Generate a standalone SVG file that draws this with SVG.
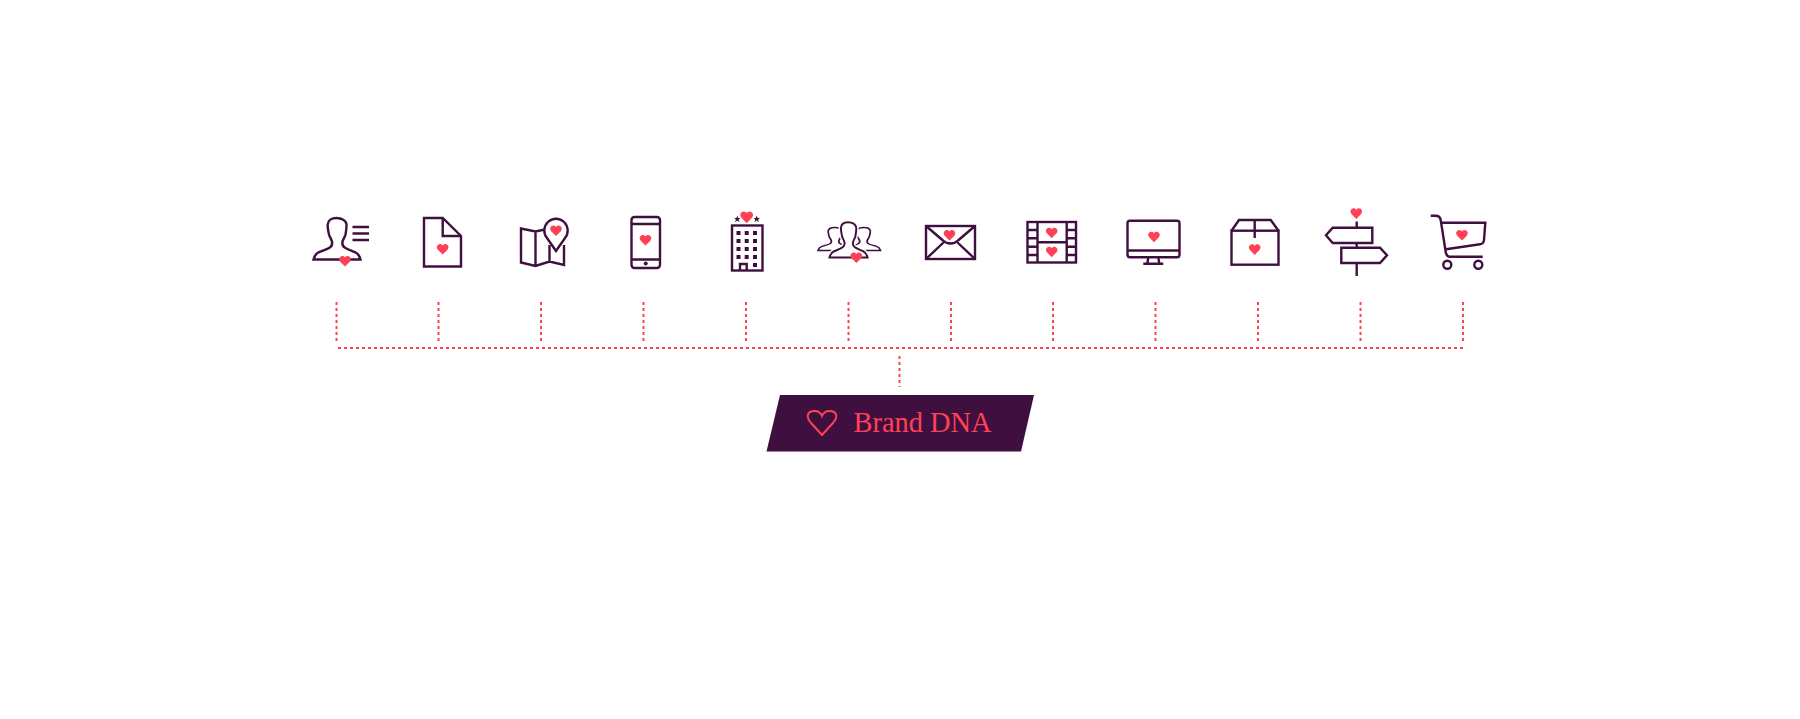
<svg xmlns="http://www.w3.org/2000/svg" width="1800" height="719" viewBox="0 0 1800 719">
<style>
.i{fill:none;stroke:#3f0f40;stroke-width:2.400;stroke-linejoin:miter}
.p{fill:#fff;stroke:#3f0f40;stroke-width:2.400;vector-effect:non-scaling-stroke}
.w{fill:#fff;stroke:#fff;stroke-width:6;vector-effect:non-scaling-stroke}
.f{fill:#3f0f40;stroke:none}
.h{fill:#ff4155;stroke:none}
.d{fill:none;stroke:#ff4155;stroke-width:2;stroke-dasharray:3 3}
.t{font-family:"Liberation Serif",serif;font-size:30px;fill:#ff4155;font-kerning:none}
</style>
<defs>
<path id="heart" d="M0,5.600 L-4.600,.9 C-7.200,-1.800 -5.200,-5 -2.600,-5 C-1.300,-5 -.4,-4.300 0,-3.400 C.4,-4.300 1.300,-5 2.600,-5 C5.200,-5 7.200,-1.800 4.600,.9Z"/>
<path id="person" d="M0 0C.8 -3.500 2.500 -6 5.500 -7.300C8.500 -8.600 13 -10 16 -11.800C18.300 -13.200 19 -15.500 18.500 -18C17.500 -21 16 -23 15.500 -25C14.500 -29 14 -33 14.200 -35C14.500 -39 18 -41.500 23 -41.500C28 -41.500 32.700 -39 33 -35C33.200 -33 32.700 -29 32 -25C31.500 -23 30 -21 29 -18C28.500 -15.500 29.200 -13.200 31.500 -11.800C34.500 -10 38.500 -8.600 41.500 -7.300C44.500 -6 46.200 -3.500 47 0Z"/>
</defs>
<rect width="1800" height="719" fill="#fff"/>
<g id="connectors">
<path class="d" d="M336.500 302V344M438.500 302V344M541 302V344M643.500 302V344M746 302V344M848.500 302V344M951 302V344M1053 302V344M1155.500 302V344M1258 302V344M1360.500 302V344M1463 302V344"/>
<path class="d" d="M338 348H1463"/>
<path class="d" d="M899.500 356V387"/>
</g>
<g id="node-person">
<use href="#person" class="i" transform="translate(313.500 259.500)"/>
<path class="i" d="M352.500 227H369M352.500 233.500H369M352.500 240H369"/>
<use href="#heart" class="h" x="345" y="261"/>
</g>
<g id="node-document">
<path class="i" d="M424 218H442.700L461 236V266.500H424Z"/>
<path class="i" d="M442.700 218V236H461"/>
<use href="#heart" class="h" x="442.700" y="249"/>
</g>
<g id="node-map">
<path class="i" d="M545 229.500L535.500 231.500L521 228.500V262.500L535.500 266L549.500 261.500L564 265V245M549.500 245V261.500M535.500 231.500V266"/>
<path class="i" d="M556 251L547 238A11.700 11.700 0 1 1 565 238Z"/>
<use href="#heart" class="h" x="556" y="230.500"/>
</g>
<g id="node-phone">
<rect class="i" x="631.500" y="217" width="28.500" height="51" rx="3"/>
<path class="i" d="M631.500 224H660M631.500 259.500H660"/>
<circle class="f" cx="645.700" cy="263.500" r="2"/>
<use href="#heart" class="h" x="645.500" y="240"/>
</g>
<g id="node-hotel">
<rect class="i" x="732" y="225.500" width="30.500" height="45"/>
<path class="i" d="M740 270.500V264H746.700V270.500"/>
<path class="f" d="M736.500 231h4v4h-4zM744.700 231h4v4h-4zM753 231h4v4h-4zM736.500 239h4v4h-4zM744.700 239h4v4h-4zM753 239h4v4h-4zM736.500 247h4v4h-4zM744.700 247h4v4h-4zM753 247h4v4h-4zM736.500 255h4v4h-4zM744.700 255h4v4h-4zM753 255h4v4h-4zM753 263h4v4h-4z"/>
<path class="f" d="M737.300 215.500l.9 2.500h2.500l-2 1.600.8 2.600-2.200-1.600-2.200 1.600.8-2.600-2-1.600h2.500zM756.700 215.500l.9 2.500h2.500l-2 1.600.8 2.600-2.200-1.600-2.200 1.600.8-2.600-2-1.600h2.500z"/>
<use href="#heart" class="h" transform="translate(746.700 217) scale(1.100)"/>
</g>
<g id="node-people">
<use href="#person" class="p" transform="translate(818 250.500) scale(.72 .555)"/>
<use href="#person" class="p" transform="translate(880.500 250.500) scale(-.72 .555)"/>
<use href="#person" class="w" transform="translate(829.500 257.500) scale(.81 .85)"/>
<use href="#person" class="p" transform="translate(829.500 257.500) scale(.81 .85)"/>
<use href="#heart" class="h" x="856.300" y="257.500"/>
</g>
<g id="node-envelope">
<rect class="i" x="926" y="226" width="49" height="33"/>
<path class="i" d="M926 226L943 240.500C947 244.500 954 244.500 958 240.500L975 226M926 259L943.500 242.500M975 259L957.500 242.500"/>
<use href="#heart" class="h" x="949.500" y="235"/>
</g>
<g id="node-film">
<rect class="i" x="1027.500" y="222" width="48.500" height="40.500"/>
<path class="i" d="M1037.500 222V262.500M1066.700 222V262.500M1037.500 242.300H1066.700M1027.500 230H1037.500M1027.500 238.300H1037.500M1027.500 246.700H1037.500M1027.500 255H1037.500M1066.700 230H1076M1066.700 238.300H1076M1066.700 246.700H1076M1066.700 255H1076"/>
<use href="#heart" class="h" x="1051.700" y="232.700"/>
<use href="#heart" class="h" x="1051.700" y="251.700"/>
</g>
<g id="node-monitor">
<rect class="i" x="1127.500" y="220.700" width="52" height="36.500" rx="2.500"/>
<path class="i" d="M1127.500 250.500H1179.500M1148.300 257.300L1147.300 263.700M1158.300 257.300L1159.300 263.700M1143.300 263.700H1163.300"/>
<use href="#heart" class="h" x="1154" y="236.700"/>
</g>
<g id="node-box">
<rect class="i" x="1231.500" y="230.700" width="47" height="34"/>
<path class="i" d="M1231.500 230.700L1239 220H1270.700L1278.500 230.700M1254.700 220V238"/>
<use href="#heart" class="h" x="1254.700" y="249.300"/>
</g>
<g id="node-signpost">
<path class="i" d="M1372.300 227.700H1332.700L1326 235.300L1332.700 243H1372.300Z"/>
<path class="i" d="M1341.300 247.700H1380L1387 255.300L1380 263H1341.300Z"/>
<path class="i" d="M1356.700 221.500V227.700M1356.700 243V247.700M1356.700 263V276"/>
<use href="#heart" class="h" x="1356.300" y="213.300"/>
</g>
<g id="node-cart">
<path class="i" d="M1430.700 215.700H1435.500C1438.500 215.700 1440.300 217.500 1440.700 220L1445.700 252C1446.200 255 1447.500 256.700 1450 256.700H1482.700"/>
<path class="i" d="M1441.300 222.700H1485.300L1484 240C1483.800 242.500 1482.500 244 1480 244.300L1446 249.300"/>
<circle class="i" cx="1447.300" cy="264.700" r="4"/>
<circle class="i" cx="1478.300" cy="264.700" r="4"/>
<use href="#heart" class="h" x="1462" y="235"/>
</g>
<g id="node-brand">
<path fill="#3f0f40" d="M780 395H1034L1021 451.500H766.500Z"/>
<path fill="none" stroke="#ff4155" stroke-width="2" d="M822 435L811.500 423.500C805 416.500 807.500 411 814.500 411C818 411 820.800 413 822 416C823.200 413 826 411 829.500 411C836.500 411 839 416.500 832.500 423.500Z"/>
<text class="t" x="853.500" y="432" textLength="138" lengthAdjust="spacingAndGlyphs">Brand DNA</text>
</g>
</svg>
